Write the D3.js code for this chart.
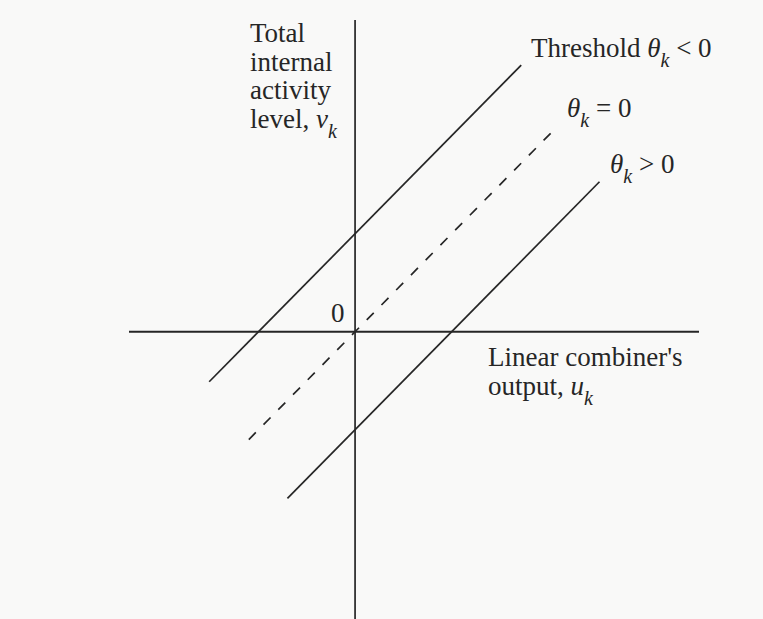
<!DOCTYPE html>
<html><head><meta charset="utf-8">
<script src="https://cdn.jsdelivr.net/npm/d3@7"></script>
<style>html,body{margin:0;padding:0;background:#f9f9f8;}svg{display:block;}</style>
</head><body>
<script>
// Data: lines v = u + bias (threshold theta = -bias)
const biases = [1, 0, -1];
const lineStyles = ["solid", "dashed", "solid"];
const uStart = [-1.51, -1.10, -0.70];
const uEnd = [1.72, 2.05, 2.53];
const uDomain = [-2.34, 3.56];
const vDomain = [-2.93, 3.18];

const W = 763, H = 619;
const svg = d3.select("body").append("svg").attr("width", W).attr("height", H);
svg.append("rect").attr("width", W).attr("height", H).attr("fill", "#f9f9f8");

const x = d3.scaleLinear().domain(uDomain).range([129, 699]);
const y = d3.scaleLinear().domain(vDomain).range([619, 20]);
const ink = "#262626";

// axes
svg.append("line").attr("x1", x(uDomain[0])).attr("x2", x(uDomain[1]))
  .attr("y1", y(0)).attr("y2", y(0)).attr("stroke", ink).attr("stroke-width", 1.9);
svg.append("line").attr("x1", x(0)).attr("x2", x(0))
  .attr("y1", y(vDomain[1])).attr("y2", y(vDomain[0])).attr("stroke", ink).attr("stroke-width", 1.7);

// lines
const line = d3.line().x(d => x(d[0])).y(d => y(d[1]));
biases.forEach((b, i) => {
  svg.append("path")
    .attr("d", line([[uStart[i], uStart[i] + b], [uEnd[i], uEnd[i] + b]]))
    .attr("fill", "none").attr("stroke", ink).attr("stroke-width", 1.7)
    .attr("stroke-dasharray", lineStyles[i] === "dashed" ? "10,11" : null);
});

const font = "'Liberation Serif','Times New Roman',serif";
function txt(xp, yp) {
  return svg.append("text").attr("x", xp).attr("y", yp)
    .attr("font-family", font).attr("font-size", 27).attr("fill", "#262626");
}
function sub(t, base) {
  t.append("tspan").attr("font-style", "italic").text(base);
  t.append("tspan").attr("font-style", "italic").attr("font-size", 20).attr("dy", 10).text("k");
}

// y axis label
["Total", "internal", "activity"].forEach((s, i) => txt(250, 42 + i * 28.5).text(s));
const lv = txt(250, 127.5);
lv.append("tspan").text("level, ");
sub(lv, "v");

// threshold labels
const t1 = txt(531, 57);
t1.append("tspan").text("Threshold ");
sub(t1, "θ");
t1.append("tspan").attr("dy", -10).text(" < 0");

const t2 = txt(567, 117);
sub(t2, "θ");
t2.append("tspan").attr("dy", -10).text(" = 0");

const t3 = txt(610, 173);
sub(t3, "θ");
t3.append("tspan").attr("dy", -10).text(" > 0");

// origin
txt(331, 322).text("0");

// x axis label
txt(488, 366).text("Linear combiner's");
const ou = txt(488, 395);
ou.append("tspan").text("output, ");
sub(ou, "u");
</script>
</body></html>
